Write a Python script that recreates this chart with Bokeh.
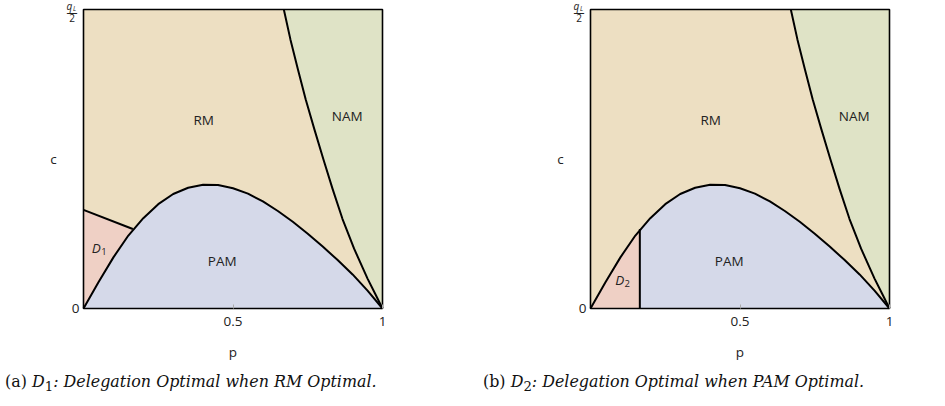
import numpy as np
from bokeh.plotting import figure
from bokeh.models import FixedTicker, Div, Range1d
from bokeh.layouts import row, column
from bokeh.core.properties import value
from bokeh.embed import file_html
from bokeh.resources import INLINE

# ---- data (p on x, c on y, c expressed as a fraction of q_L/2) ----
p_limits = [0.0, 1.0]
c_limits = [0.0, 1.0]
pam_p = [0.00, 0.05, 0.10, 0.15, 0.20, 0.25, 0.30, 0.35, 0.40, 0.45, 0.50,
         0.55, 0.60, 0.65, 0.70, 0.75, 0.80, 0.85, 0.90, 0.95, 1.00]
pam_c = [0.000, 0.088, 0.171, 0.244, 0.302, 0.349, 0.383, 0.404, 0.414, 0.413, 0.402,
         0.384, 0.358, 0.326, 0.290, 0.250, 0.207, 0.162, 0.114, 0.060, 0.000]
nam_p = [0.670, 0.692, 0.717, 0.743, 0.772, 0.802, 0.833, 0.866, 0.905, 0.950, 0.975, 1.000]
nam_c = [1.000, 0.900, 0.800, 0.700, 0.600, 0.500, 0.400, 0.300, 0.200, 0.100, 0.050, 0.000]
split_p = [0.0, 0.165]      # D boundary: from axis to the PAM curve
split_c = [0.330, 0.266]

region_names = ["RM", "NAM", "PAM"]
region_p = [0.402, 0.882, 0.464]
region_c = [0.632, 0.643, 0.158]
d_names = ["D", "D"]
d_subs = ["1", "2"]
d_p = [0.043, 0.098]
d_c = [0.202, 0.095]

x_ticks = [0.5, 1.0]
x_tick_labels = ["0.5", "1"]
y_ticks = [0.0, 1.0]
y_tick_labels = ["0", ""]
top_num, top_sub, top_den = "q", "L", "2"     # c axis top label: q_L / 2

captions = [
    "(a) <i>D</i><sub>1</sub><i>: Delegation Optimal when RM Optimal.</i>",
    "(b) <i>D</i><sub>2</sub><i>: Delegation Optimal when PAM Optimal.</i>",
]

RM_COL = "#eddfc2"
NAM_COL = "#dfe3c6"
PAM_COL = "#d5d9e9"
D_COL = "#efd0c5"
TXT = "#222222"
FONT = "Open Sans"

PX = 299.0          # pixels per unit on both axes
SIDE_PAD = 38       # room inside the frame, left (and right) of the box
TOP_PAD = 9         # room inside the frame above the box, for q_L/2
BOTTOM_PAD = 8      # room inside the frame below the box, for the "0" label


def make_panel(k, right_border):
    p = figure(frame_width=int(PX) + 2 * SIDE_PAD, frame_height=int(PX) + TOP_PAD + BOTTOM_PAD,
               x_range=Range1d(p_limits[0] - SIDE_PAD / PX, p_limits[1] + SIDE_PAD / PX),
               y_range=Range1d(c_limits[0] - BOTTOM_PAD / PX, c_limits[1] + TOP_PAD / PX),
               min_border_left=45, min_border_right=right_border,
               min_border_top=0, min_border_bottom=51,
               output_backend="svg", toolbar_location=None,
               background_fill_color="white", border_fill_color="white")
    p.grid.visible = False
    p.outline_line_color = None

    # regions
    p.quad(left=p_limits[0], right=p_limits[1], bottom=c_limits[0], top=c_limits[1],
           fill_color=RM_COL, line_color=None)
    p.patch(nam_p + [p_limits[1]], nam_c + [c_limits[1]], fill_color=NAM_COL, line_color=None)
    p.patch(pam_p, pam_c, fill_color=PAM_COL, line_color=None)
    pa = np.array(pam_p)
    pc = np.array(pam_c)
    m = pa < split_p[1]
    if k == 0:
        xs = list(pa[m]) + [split_p[1], split_p[0]]
        ys = list(pc[m]) + [split_c[1], split_c[0]]
    else:
        xs = list(pa[m]) + [split_p[1], split_p[1]]
        ys = list(pc[m]) + [split_c[1], c_limits[0]]
    p.patch(xs, ys, fill_color=D_COL, line_color=None)

    # boundaries
    p.line(pam_p, pam_c, line_color="black", line_width=2, line_join="round")
    p.line(nam_p, nam_c, line_color="black", line_width=2, line_join="round")
    if k == 0:
        p.line(split_p, split_c, line_color="black", line_width=2)
    else:
        p.line([split_p[1], split_p[1]], [c_limits[0], split_c[1]],
               line_color="black", line_width=2)

    # box around the plotting area
    p.quad(left=p_limits[0], right=p_limits[1], bottom=c_limits[0], top=c_limits[1],
           fill_color=None, line_color="black", line_width=1.6)

    # region labels
    p.text(x=region_p, y=region_c, text=region_names, text_font=value(FONT),
           text_font_size="13.5px", text_align="center", text_baseline="middle",
           text_color=TXT)
    p.text(x=[d_p[k]], y=[d_c[k]], text=[d_names[k]], text_font=value(FONT),
           text_font_style="italic", text_font_size="13.5px", text_align="center",
           text_baseline="middle", text_color=TXT)
    p.text(x=[d_p[k]], y=[d_c[k]], text=[d_subs[k]], text_font=value(FONT),
           text_font_size="9.5px", text_align="center", text_baseline="middle",
           text_color=TXT, x_offset=7.5, y_offset=3)

    # q_L / 2 label at the top of the c axis
    tx, ty = [p_limits[0]], [c_limits[1]]
    p.text(x=tx, y=ty, text=[top_num], x_offset=-14, y_offset=-3.5,
           text_font=value(FONT), text_font_style="italic", text_font_size="10px",
           text_align="center", text_baseline="middle", text_color=TXT)
    p.text(x=tx, y=ty, text=[top_sub], x_offset=-9, y_offset=-1.5,
           text_font=value(FONT), text_font_style="italic", text_font_size="6.5px",
           text_align="center", text_baseline="middle", text_color=TXT)
    p.text(x=tx, y=ty, text=["\u2014"], x_offset=-11.5, y_offset=2,
           text_font=value(FONT), text_font_size="11px",
           text_align="center", text_baseline="middle", text_color=TXT)
    p.text(x=tx, y=ty, text=[top_den], x_offset=-11.5, y_offset=8.5,
           text_font=value(FONT), text_font_size="10px",
           text_align="center", text_baseline="middle", text_color=TXT)

    # axes
    p.xaxis.ticker = FixedTicker(ticks=x_ticks)
    p.xaxis.major_label_overrides = dict(zip(x_ticks, x_tick_labels))
    p.xaxis.bounds = (p_limits[0], p_limits[1])
    p.yaxis.ticker = FixedTicker(ticks=y_ticks)
    p.yaxis.major_label_overrides = dict(zip(y_ticks, y_tick_labels))
    p.yaxis.bounds = (c_limits[0], c_limits[1])
    p.yaxis.fixed_location = p_limits[0]
    for ax in (p.xaxis[0], p.yaxis[0]):
        ax.axis_line_color = None
        ax.minor_tick_line_color = None
        ax.major_label_text_font = FONT
        ax.major_label_text_font_size = "13.5px"
        ax.major_label_text_color = TXT
        ax.axis_label_text_font = FONT
        ax.axis_label_text_font_size = "13.5px"
        ax.axis_label_text_font_style = "normal"
        ax.axis_label_text_color = TXT
    # x ticks sit on the box bottom, BOTTOM_PAD px above the frame edge
    p.xaxis.major_tick_in = BOTTOM_PAD + 4
    p.xaxis.major_tick_out = -BOTTOM_PAD
    p.xaxis.major_tick_line_color = "#aaaaaa"
    p.xaxis.major_label_standoff = 0
    p.xaxis.axis_label = "p"
    p.xaxis.axis_label_standoff = 14
    p.yaxis.major_tick_line_color = None
    p.yaxis.major_tick_in = 0
    p.yaxis.major_tick_out = 0
    p.yaxis.major_label_standoff = 4
    p.yaxis.axis_label = "c"
    p.yaxis.axis_label_orientation = "horizontal"
    p.yaxis.axis_label_standoff = 12
    return p


pa_fig = make_panel(0, 87)
pb_fig = make_panel(1, 0)

cap_style = {"font-family": "DejaVu Serif", "font-size": "15.9px", "color": "#111",
             "line-height": "20px", "white-space": "nowrap"}
cap_a = Div(text=captions[0], width=468, height=26, styles=cap_style)
cap_b = Div(text=captions[1], width=460, height=26, styles=cap_style)

layout = column(row(pa_fig, pb_fig), row(cap_a, cap_b))
open("out.html", "w").write(file_html(layout, INLINE))
